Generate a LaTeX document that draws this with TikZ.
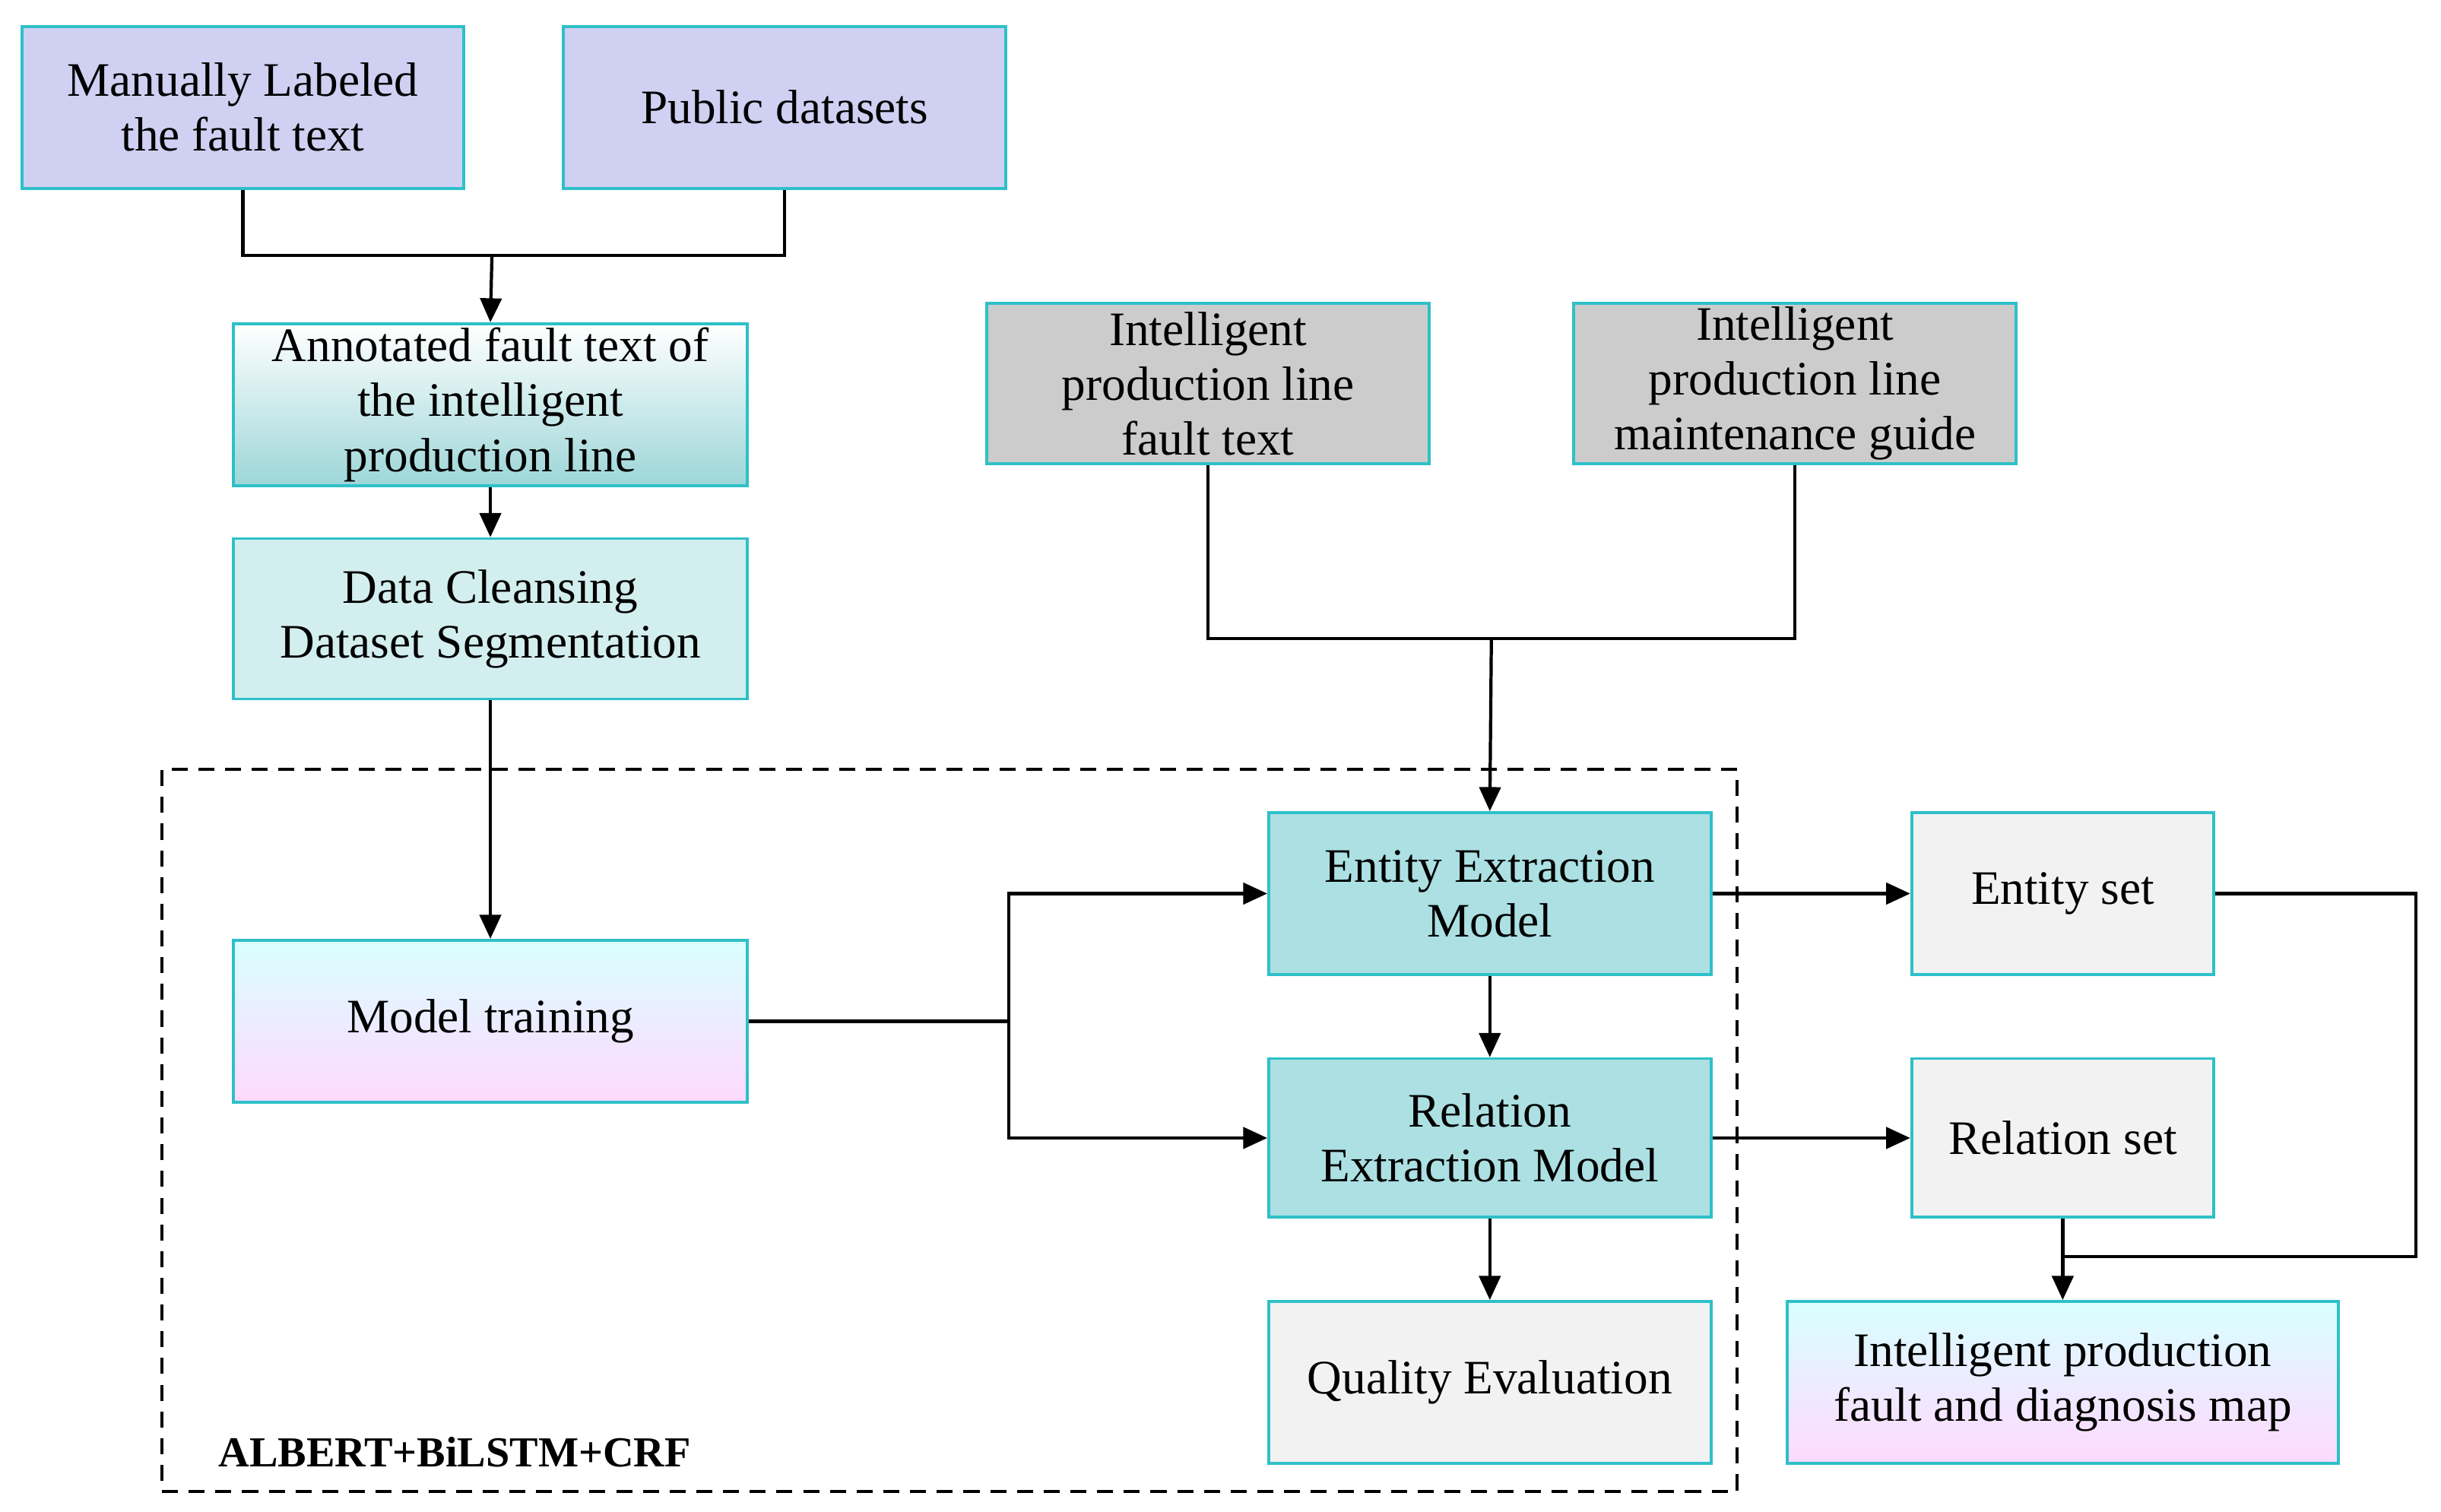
\documentclass[tikz,border=0pt]{standalone}
\usepackage{fontspec}
\setmainfont{Liberation Serif}
\usetikzlibrary{arrows.meta}
\definecolor{bd}{HTML}{2EC0C8}
\definecolor{lav}{HTML}{D0D0F2}
\definecolor{gry}{HTML}{CCCCCC}
\definecolor{tealf}{HTML}{ACE0E3}
\definecolor{lgry}{HTML}{F2F2F2}
\definecolor{clean}{HTML}{D3EEEE}
\begin{document}
\begin{tikzpicture}[x=0.02048cm,y=-0.02048cm,
  box/.style={draw=bd,line width=1.1pt,align=center,inner sep=0pt,font=\fontsize{18}{20.5}\selectfont},
  ln/.style={line width=1.2pt},
  ar/.style={ln,-{Triangle[length=9pt,width=8pt]}}]
\useasboundingbox (0,0) rectangle (1568,971);
\newcommand{\bx}[7]{\node[box,#6,minimum width={(#4-#2)*0.02048cm},minimum height={(#5-#3)*0.02048cm}] (#1) at ({(#2+#4)/2},{(#3+#5)/2}) {#7};}
\bx{man}{14}{17}{298}{121}{fill=lav}{Manually Labeled\\the fault text}
\bx{pub}{362}{17}{646}{121}{fill=lav}{Public datasets}
\bx{ann}{150}{208}{480}{312}{top color=white,bottom color=tealf!85!teal!90,shading angle=0}{Annotated fault text of\\the intelligent\\production line}
\bx{dcl}{150}{346}{480}{449}{fill=clean}{Data Cleansing\\Dataset Segmentation}
\bx{mod}{150}{604}{480}{708}{top color=cyan!15,middle color=orange!12,bottom color=magenta!15}{Model training}
\bx{g1}{634}{195}{918}{298}{fill=gry}{Intelligent\\production line\\fault text}
\bx{g2}{1011}{195}{1295}{298}{fill=gry}{Intelligent\\production line\\maintenance guide}
\bx{ent}{815}{522}{1099}{626}{fill=tealf}{Entity Extraction\\Model}
\bx{rel}{815}{680}{1099}{782}{fill=tealf}{Relation\\Extraction Model}
\bx{qua}{815}{836}{1099}{940}{fill=lgry}{Quality Evaluation}
\bx{es}{1228}{522}{1422}{626}{fill=lgry}{Entity set}
\bx{rs}{1228}{680}{1422}{782}{fill=lgry}{Relation set}
\bx{map}{1148}{836}{1502}{940}{top color=cyan!15,middle color=orange!12,bottom color=magenta!15}{Intelligent production\\fault and diagnosis map}
\node[draw,dashed,line width=1.1pt,dash pattern=on 6pt off 4pt,minimum width={1012*0.02048cm},minimum height={464*0.02048cm},inner sep=0pt] (dash) at (610,726) {};
\node[anchor=west,font=\fontsize{16}{18}\selectfont\bfseries,inner sep=0pt] (lab) at (140,933) {ALBERT+BiLSTM+CRF};
\coordinate (j1) at (316,164);
\draw[ln] (man.south) |- (j1) -| (pub.south);
\draw[ar] (j1) -- (ann.north);
\draw[ar] (ann.south) -- (dcl.north);
\draw[ar] (dcl.south) -- (mod.north);
\coordinate (j2) at (958,410);
\draw[ln] (g1.south) |- (j2) -| (g2.south);
\draw[ar] (j2) -- (ent.north);
\coordinate (j3) at (648,656);
\draw[ln] (mod.east) -- (j3);
\draw[ar] (j3) |- (ent.west);
\draw[ar] (j3) |- (rel.west);
\draw[ar] (ent.south) -- (rel.north);
\draw[ar] (rel.south) -- (qua.north);
\draw[ar] (ent.east) -- (es.west);
\draw[ar] (rel.east) -- (rs.west);
\coordinate (j4) at (1326,807);
\draw[ln] (es.east) -- (1552,574) |- (j4);
\draw[ar] (rs.south) -- (map.north);
\end{tikzpicture}
\end{document}
